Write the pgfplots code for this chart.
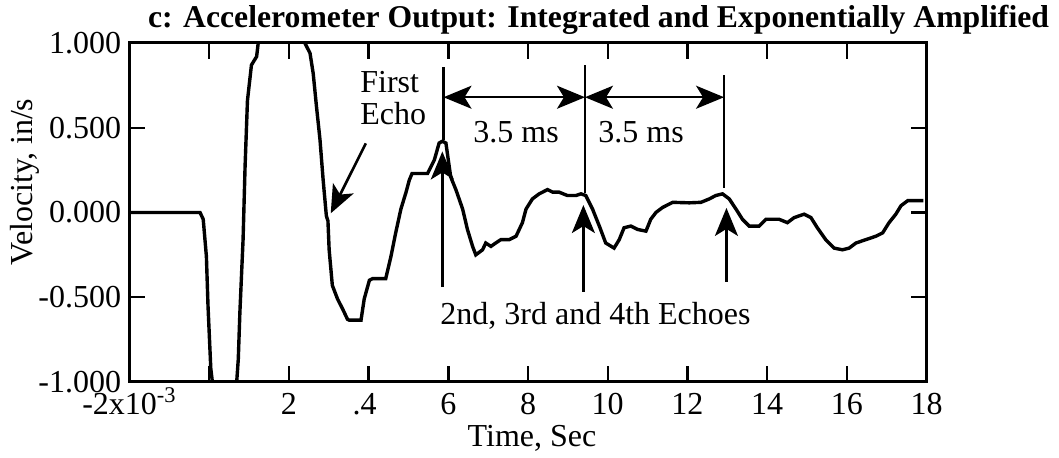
\documentclass[border=0pt]{standalone}
\usepackage{pgfplots}
\pgfplotsset{compat=1.18}
\usepackage{fontspec}
\setmainfont{Liberation Serif}
\usetikzlibrary{arrows.meta}

% integrated, exponentially amplified accelerometer trace (time in ms, velocity in in/s)
\pgfplotstableread{
t      v
-2.00  0.000
-0.23  0.000
-0.15 -0.040
-0.07 -0.260
-0.03 -0.550
 0.04 -0.920
 0.08 -1.000
 0.12 -1.250
 0.65 -1.250
 0.69 -1.000
 0.73 -0.865
 0.77 -0.590
 0.85 -0.160
 0.90  0.270
 0.96  0.660
 1.06  0.870
 1.19  0.920
 1.23  1.000
 1.28  1.200
 2.35  1.200
 2.40  1.000
 2.53  0.940
 2.61  0.820
 2.69  0.630
 2.78  0.430
 2.86  0.190
 2.94 -0.020
 2.98 -0.050
 3.01 -0.220
 3.09 -0.430
 3.22 -0.510
 3.35 -0.570
 3.47 -0.630
 3.51 -0.635
 3.81 -0.635
 3.89 -0.510
 4.02 -0.400
 4.10 -0.390
 4.43 -0.390
 4.47 -0.350
 4.56 -0.260
 4.68 -0.120
 4.81  0.020
 4.94  0.120
 5.02  0.190
 5.09  0.230
 5.48  0.230
 5.65  0.310
 5.77  0.410
 5.85  0.420
 5.94  0.410
 6.06  0.210
 6.19  0.135
 6.36  0.020
 6.48 -0.100
 6.61 -0.200
 6.69 -0.250
 6.86 -0.220
 6.94 -0.180
 7.07 -0.200
 7.19 -0.180
 7.32 -0.160
 7.53 -0.160
 7.70 -0.140
 7.86 -0.060
 7.95  0.020
 8.11  0.080
 8.28  0.110
 8.49  0.135
 8.62  0.120
 8.78  0.120
 8.99  0.100
 9.20  0.100
 9.33  0.110
 9.45  0.100
 9.62  0.020
 9.79 -0.080
 9.95 -0.180
10.16 -0.210
10.29 -0.160
10.41 -0.090
10.58 -0.080
10.75 -0.100
10.96 -0.110
11.08 -0.040
11.21  0.000
11.38  0.030
11.63  0.060
12.05  0.057
12.34  0.060
12.55  0.080
12.71  0.100
12.88  0.110
13.05  0.080
13.22  0.020
13.38 -0.040
13.55 -0.080
13.80 -0.080
13.97 -0.040
14.30 -0.040
14.51 -0.060
14.68 -0.030
14.93 -0.010
15.10 -0.030
15.26 -0.090
15.47 -0.160
15.68 -0.210
15.89 -0.220
16.06 -0.210
16.23 -0.180
16.48 -0.160
16.73 -0.140
16.90 -0.120
17.06 -0.060
17.23 -0.010
17.36  0.040
17.53  0.070
17.92  0.070
}\trace

\tikzset{bigtip/.tip={Stealth[length=14pt,width=11.5pt,inset=3.5pt]}}

\begin{document}
\begin{tikzpicture}[font=\fontsize{16}{19}\selectfont]
\useasboundingbox (-64.75pt,-38pt) rectangle (464.75pt,191pt);
\begin{axis}[
  scale only axis,
  width=398.5pt, height=169.5pt,
  xmin=-2, xmax=18, ymin=-1, ymax=1,
  xtick={-2,0,2,4,6,8,10,12,14,16,18},
  xticklabels={-2x10\textsuperscript{-3},,2,\llap{.}4,6,8,10,12,14,16,18},
  ytick={-1,-0.5,0,0.5,1},
  yticklabels={-1.000,-0.500,0.000,0.500,1.000},
  tick align=inside,
  major tick length=8pt,
  axis line style={line width=1.5pt},
  every tick/.style={line width=1.2pt, black},
  ticklabel style={font=\fontsize{16}{19}\selectfont},
  xticklabel style={anchor=base, yshift=-16.5pt},
  yticklabel style={inner sep=4pt},
]
\addplot[black, line width=1.7pt] table[x=t, y=v] {\trace};

% echo markers
\draw[line width=1.15pt] (axis cs:5.88,0.858) -- (axis cs:5.88,0.43);
\draw[line width=1.15pt] (axis cs:9.43,0.87) -- (axis cs:9.43,0.115);
\draw[line width=1.15pt] (axis cs:12.92,0.81) -- (axis cs:12.92,0.145);
\draw[line width=1.15pt, {bigtip}-{bigtip}] (axis cs:5.88,0.68) -- (axis cs:9.43,0.68);
\draw[line width=1.15pt, {bigtip}-{bigtip}] (axis cs:9.43,0.68) -- (axis cs:12.92,0.68);
\draw[line width=1.3pt, -{bigtip}] (axis cs:5.85,-0.44) -- (axis cs:5.85,0.36);
\draw[line width=1.3pt, -{bigtip}] (axis cs:9.39,-0.467) -- (axis cs:9.39,0.044);
\draw[line width=1.3pt, -{bigtip}] (axis cs:12.98,-0.41) -- (axis cs:12.98,0.027);
\draw[line width=1.3pt, -{bigtip}] (axis cs:3.93,0.408) -- (axis cs:3.05,-0.005);
\end{axis}

\node[anchor=base, inner sep=0, font=\bfseries\fontsize{15.85}{19}\selectfont]
  at (234.5pt,177pt) {c: Accelerometer Output: Integrated and Exponentially Amplified};
\node[anchor=base, inner sep=0] at (201.25pt,-32.5pt) {Time, Sec};
\node[rotate=90, anchor=base, inner sep=0] at (-48.25pt,100pt) {Velocity, in/s};
\node[anchor=base west, inner sep=0] at (115.25pt,144.5pt) {First};
\node[anchor=base west, inner sep=0] at (115.25pt,128.5pt) {Echo};
\node[anchor=base west, inner sep=0] at (171.75pt,119.5pt) {3.5 ms};
\node[anchor=base west, inner sep=0] at (234.25pt,119.5pt) {3.5 ms};
\node[anchor=base west, inner sep=0] at (155.25pt,28.5pt) {2nd, 3rd and 4th Echoes};
\end{tikzpicture}
\end{document}
